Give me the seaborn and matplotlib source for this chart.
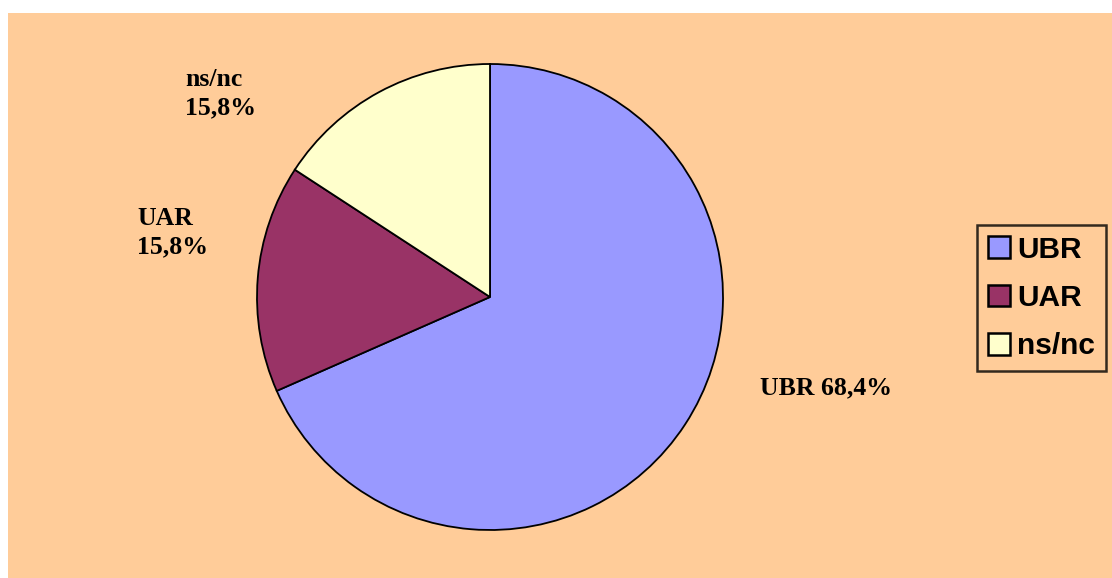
import matplotlib
matplotlib.use("Agg")
import matplotlib.pyplot as plt
from matplotlib.patches import Patch
from matplotlib.font_manager import FontProperties
import seaborn as sns

# Survey answer shares (percent)
categories = ["UBR", "UAR", "ns/nc"]
shares = [68.4, 15.8, 15.8]
slice_colors = ["#9999FF", "#993366", "#FFFFCC"]

sns.set_style("white")
plt.rcParams["font.family"] = ["Liberation Serif", "DejaVu Serif"]
plt.rcParams["text.color"] = "black"

PEACH = "#FFCC99"
W, H = 1112, 578
fig = plt.figure(figsize=(W / 100, H / 100), dpi=100, facecolor="white")

# Plot area in pixels and pie geometry
area_l, area_t = 8, 13
cx, cy, r = 490, 297, 233
ax = fig.add_axes([area_l / W, 0, (W - area_l) / W, (H - area_t) / H])
ax.set_facecolor(PEACH)
for s in ax.spines.values():
    s.set_visible(False)

wedges, _ = ax.pie(
    shares,
    colors=slice_colors,
    startangle=90,
    counterclock=False,
    radius=1.0,
    center=(0, 0),
    wedgeprops=dict(edgecolor="black", linewidth=1.3),
    frame=True,
)
ax.set_xlim((area_l - cx) / r, (W - cx) / r)
ax.set_ylim(-(H - cy) / r, (cy - area_t) / r)
ax.set_aspect("auto")
ax.set_xticks([])
ax.set_yticks([])


def fmt(v):
    return f"{v:.1f}".replace(".", ",") + "%"


label_style = dict(fontsize=18.5, fontweight="bold", color="black",
                   ha="left", va="center", multialignment="left",
                   linespacing=1.3)
ax.text((760 - cx) / r, (cy - 388) / r,
        f"{categories[0]} {fmt(shares[0])}", **label_style)
ax.text((137 - cx) / r, (cy - 233) / r,
        f"{categories[1]}\n{fmt(shares[1])}", **label_style)
ax.text((185 - cx) / r, (cy - 94) / r,
        f"{categories[2]}\n{fmt(shares[2])}", **label_style)

handles = [Patch(facecolor=c, edgecolor="black", linewidth=1.8)
           for c in slice_colors]
legend_font = FontProperties(family="Liberation Sans", weight="bold", size=21.5)
leg = fig.legend(
    handles, categories,
    loc="upper left",
    bbox_to_anchor=(977 / W, 1 - 225 / H),
    frameon=True, fancybox=False,
    facecolor=PEACH, edgecolor="black",
    prop=legend_font, labelcolor="black",
    handlelength=0.74, handleheight=0.74, handletextpad=0.25,
    labelspacing=0.68, borderpad=0.36, borderaxespad=0,
)
leg.get_frame().set_linewidth(1.8)

fig.savefig("out.png", dpi=100, facecolor="white")
